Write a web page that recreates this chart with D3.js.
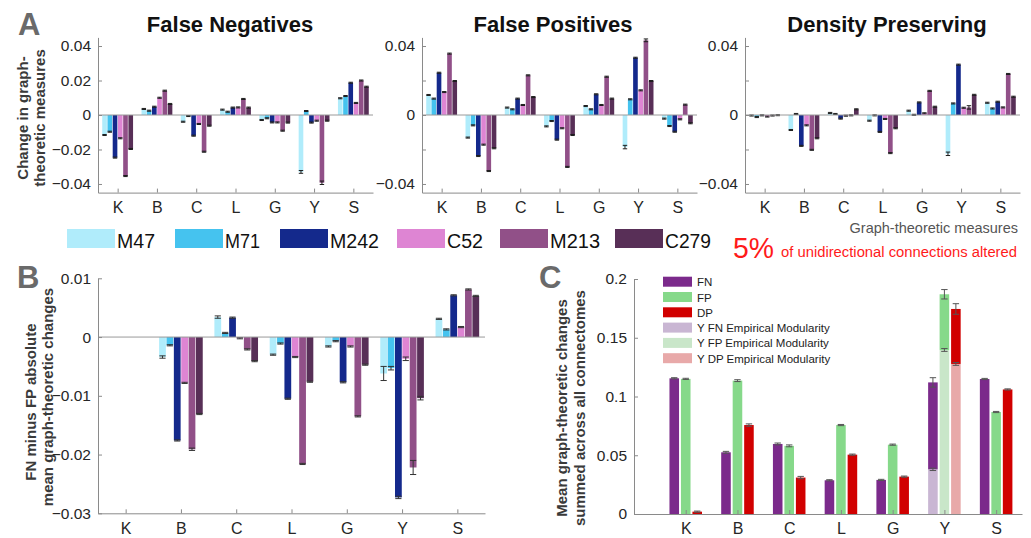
<!DOCTYPE html>
<html><head><meta charset="utf-8">
<script src="https://cdn.jsdelivr.net/npm/d3@7"></script>
<style>body{margin:0;background:#fff;} svg{display:block;font-family:Arial,"Liberation Sans",sans-serif;}</style>
</head><body><svg id="c" width="1031" height="538"></svg>
<script>
// ---------- DATA ----------
const measures = ["K","B","C","L","G","Y","S"];
const connectomes = ["M47","M71","M242","C52","M213","C279"];
// rows = measures, columns = connectomes
const fnChange = [
 [-0.0116,-0.0097,-0.0247,-0.0135,-0.0354,-0.0197],
 [ 0.0035, 0.0025, 0.0048, 0.0100, 0.0141, 0.0064],
 [-0.0039,-0.0006,-0.0120,-0.0052,-0.0213,-0.0062],
 [ 0.0031, 0.0019, 0.0043, 0.0044, 0.0093, 0.0043],
 [-0.0029,-0.0019,-0.0043,-0.0043,-0.0091,-0.0044],
 [-0.0330, 0.0023,-0.0044,-0.0033,-0.0393,-0.0033],
 [ 0.0097, 0.0110, 0.0187, 0.0070, 0.0200, 0.0164]
];
const fnErr = [
 [0.0003,0.0003,0.0003,0.0003,0.0003,0.0003],
 [0.0003,0.0003,0.0003,0.0003,0.0003,0.0003],
 [0.0003,0.0003,0.0003,0.0003,0.0003,0.0003],
 [0.0003,0.0003,0.0003,0.0003,0.0003,0.0003],
 [0.0003,0.0003,0.0003,0.0003,0.0003,0.0003],
 [0.0008,0.0003,0.0003,0.0003,0.0010,0.0003],
 [0.0003,0.0003,0.0003,0.0003,0.0003,0.0003]
];
const fpChange = [
 [ 0.0116, 0.0095, 0.0245, 0.0133, 0.0356, 0.0197],
 [-0.0131,-0.0060,-0.0238,-0.0172,-0.0325,-0.0193],
 [ 0.0043, 0.0033, 0.0095, 0.0058, 0.0230, 0.0104],
 [-0.0066,-0.0035,-0.0143,-0.0077,-0.0301,-0.0116],
 [ 0.0052, 0.0033, 0.0120, 0.0058, 0.0222, 0.0095],
 [-0.0186, 0.0091, 0.0332, 0.0143, 0.0433, 0.0197],
 [-0.0021,-0.0064,-0.0097,-0.0025, 0.0060,-0.0048]
];
const fpErr = [
 [0.0003,0.0003,0.0003,0.0003,0.0003,0.0003],
 [0.0003,0.0003,0.0003,0.0003,0.0003,0.0003],
 [0.0003,0.0003,0.0003,0.0003,0.0003,0.0003],
 [0.0003,0.0003,0.0003,0.0003,0.0003,0.0003],
 [0.0003,0.0003,0.0003,0.0003,0.0003,0.0003],
 [0.0010,0.0003,0.0003,0.0003,0.0008,0.0003],
 [0.0003,0.0003,0.0003,0.0003,0.0003,0.0003]
];
const dpChange = [
 [-0.0003,-0.0012,-0.0002,-0.0009,-0.0003,-0.0001],
 [-0.0087, 0.0006,-0.0179,-0.0060,-0.0202,-0.0135],
 [ 0.0012, 0.0006,-0.0021,-0.0004,-0.0002, 0.0033],
 [-0.0033,-0.0002,-0.0098,-0.0023,-0.0221,-0.0077],
 [ 0.0025, 0.0001, 0.0073, 0.0010, 0.0140, 0.0048],
 [-0.0225, 0.0067, 0.0292, 0.0042, 0.0044, 0.0117],
 [ 0.0071, 0.0038, 0.0077, 0.0044, 0.0238, 0.0106]
];
const dpErr = [
 [0.0003,0.0003,0.0003,0.0003,0.0003,0.0003],
 [0.0003,0.0003,0.0003,0.0003,0.0003,0.0003],
 [0.0003,0.0003,0.0003,0.0003,0.0003,0.0003],
 [0.0003,0.0003,0.0003,0.0003,0.0003,0.0003],
 [0.0003,0.0003,0.0003,0.0003,0.0003,0.0003],
 [0.0010,0.0003,0.0003,0.0003,0.0010,0.0003],
 [0.0003,0.0003,0.0003,0.0003,0.0003,0.0003]
];
const fnMinusFp = [
 [ 0, 0, 0, 0, 0, 0],
 [-0.0034,-0.0014,-0.0176,-0.0078,-0.0191,-0.0131],
 [ 0.0034, 0.0007, 0.0033,-0.0002,-0.0021,-0.0041],
 [-0.0030,-0.0011,-0.0105,-0.0034,-0.0216,-0.0076],
 [-0.0016,-0.0007,-0.0077,-0.0016,-0.0135,-0.0047],
 [-0.0062,-0.0053,-0.0273,-0.0037,-0.0222,-0.0104],
 [ 0.0031, 0.0013, 0.0071, 0.0017, 0.0081, 0.0070]
];
const fnMinusFpErr = [
 [0,0,0,0,0,0],
 [0.0002,0.0001,0.0001,0.0001,0.0002,0.0001],
 [0.0002,0.0001,0.0001,0.0001,0.0001,0.0001],
 [0.0001,0.0001,0.0001,0.0001,0.0001,0.0001],
 [0.0001,0.0001,0.0001,0.0001,0.0001,0.0001],
 [0.0012,0.0003,0.0002,0.0003,0.0012,0.0003],
 [0.0001,0.0001,0.0001,0.0001,0.0001,0.0001]
];
const cSeries = ["FN","FP","DP"];
const fnTotal = [0.1155, 0.0525, 0.0596, 0.0287, 0.0290, 0.1120, 0.1149];
const fpTotal = [0.1150, 0.1135, 0.0580, 0.0757, 0.0590, 0.1870, 0.0868];
const dpTotal = [0.0020, 0.0757, 0.0310, 0.0505, 0.0318, 0.1745, 0.1060];
const fnTotalErr = [0.0005, 0.0008, 0.0008, 0.0005, 0.0005, 0.0040, 0.0005];
const fpTotalErr = [0.0005, 0.0008, 0.0008, 0.0005, 0.0005, 0.0040, 0.0005];
const dpTotalErr = [0.0005, 0.0010, 0.0010, 0.0005, 0.0005, 0.0045, 0.0005];
const yEmpirical = [0.0380, 0.1396, 0.1277];      // FN, FP, DP modularity (Y) empirical part
const yEmpiricalErr = [0.0010, 0.0012, 0.0012];
const cLegend = ["FN","FP","DP","Y FN Empirical Modularity","Y FP Empirical Modularity","Y DP Empirical Modularity"];

// ---------- STYLE ----------
const connColors = ["#b0ecfb","#45c3ef","#14298c","#de85d3","#915088","#582f57"];
const cColors = ["#7b2a8b","#86d98a","#d10000"];
const cLight = ["#c9b6d3","#c9e6c9","#e8a9a9"];
const axisGrey = "#8a8a8a";
const fmt = d => d === 0 ? "0" : d3.format("")(+d.toFixed(3));

const svg = d3.select("#c");
svg.append("rect").attr("width",1031).attr("height",538).attr("fill","#fff");

function styleAxis(g, fs){
  g.attr("font-family", null).attr("font-size", null);
  g.select(".domain").attr("stroke", axisGrey);
  g.selectAll(".tick line").attr("stroke", axisGrey);
  g.selectAll(".tick text").attr("fill","#262626").style("font-size", fs + "px");
}

// ---------- PANEL A ----------
const yA = d3.scaleLinear().domain([-0.045, 0.045]).range([192.6, 37.4]);
const aTicks = [-0.04,-0.02,0,0.02,0.04];
const panelsA = [
  {title:"False Negatives", vals: fnChange, errs: fnErr, x0:98, x1:373, all:true, tx:230},
  {title:"False Positives", vals: fpChange, errs: fpErr, x0:422, x1:697, all:false, tx:553},
  {title:"Density Preserving", vals: dpChange, errs: dpErr, x0:745, x1:1020, all:false, tx:887}
];

function groupedBars(g, x, y, vals, errs, errColor){
  const step = x(2) - x(1);
  const slot = step * 0.8 / connectomes.length;
  vals.forEach((row, i) => {
    row.forEach((v, j) => {
      const cx = x(i + 1) + (j - 2.5) * slot;
      g.append("rect")
        .attr("x", cx - slot/2 + 0.3).attr("width", slot - 0.6)
        .attr("y", y(Math.max(v, 0))).attr("height", Math.abs(y(v) - y(0)))
        .attr("fill", connColors[j]);
    });
  });
  vals.forEach((row, i) => {
    row.forEach((v, j) => {
      const e = errs[i][j];
      if (e <= 0) return;
      const cx = x(i + 1) + (j - 2.5) * slot;
      const hw = slot * 0.42;
      const eb = g.append("g").attr("stroke", errColor).attr("stroke-width", 1);
      eb.append("line").attr("x1",cx).attr("x2",cx).attr("y1",y(v-e)).attr("y2",y(v+e));
      eb.append("line").attr("x1",cx-hw).attr("x2",cx+hw).attr("y1",y(v-e)).attr("y2",y(v-e));
      eb.append("line").attr("x1",cx-hw).attr("x2",cx+hw).attr("y1",y(v+e)).attr("y2",y(v+e));
    });
  });
}

panelsA.forEach(p => {
  const x = d3.scaleLinear().domain([0.5, 7.5]).range([p.x0, p.x1]);
  const g = svg.append("g");
  groupedBars(g, x, yA, p.vals, p.errs, "#1e1e1e");
  g.append("line").attr("x1", p.x0).attr("x2", p.x1).attr("y1", yA(0)).attr("y2", yA(0))
    .attr("stroke", "#9a9a9a").attr("stroke-width", 1);
  const ya = svg.append("g").attr("transform", `translate(${p.x0},0)`)
    .call(d3.axisLeft(yA).tickValues(aTicks).tickSize(-4).tickSizeOuter(0).tickPadding(7)
      .tickFormat(d => (p.all || Math.abs(d) > 0.03 || d === 0) ? fmt(d) : ""));
  styleAxis(ya, 15.5);
  const xa = svg.append("g").attr("transform", `translate(0,${yA.range()[0]})`)
    .call(d3.axisBottom(x).tickValues(d3.range(1, 8)).tickSize(-4).tickSizeOuter(0).tickPadding(9)
      .tickFormat(i => measures[i - 1]));
  styleAxis(xa, 16);
  svg.append("text").attr("x", p.tx).attr("y", 32).attr("text-anchor","middle")
    .attr("font-weight","bold").attr("font-size", 22).attr("fill","#111").text(p.title);
});

svg.append("text").attr("x", 18).attr("y", 35).attr("font-size", 31).attr("font-weight","bold")
  .attr("fill","#6a6a6a").text("A");
svg.append("text").attr("transform","translate(28,118) rotate(-90)").attr("text-anchor","middle")
  .attr("font-weight","bold").attr("font-size",15).attr("fill","#3a3a3a").text("Change in graph-");
svg.append("text").attr("transform","translate(45,118) rotate(-90)").attr("text-anchor","middle")
  .attr("font-weight","bold").attr("font-size",15).attr("fill","#3a3a3a").text("theoretic measures");
svg.append("text").attr("x", 1018).attr("y", 233).attr("text-anchor","end")
  .attr("font-size", 14.5).attr("fill","#555").text("Graph-theoretic measures");

// legend row
const legX = [67, 175, 280, 397, 500, 615];
const legTextW = [38, 35, 49, 36, 50, 46];
connectomes.forEach((c, j) => {
  svg.append("rect").attr("x", legX[j]).attr("y", 229).attr("width", 48).attr("height", 19)
    .attr("fill", connColors[j]);
  svg.append("text").attr("x", legX[j] + 50).attr("y", 248).attr("font-size", 20)
    .attr("textLength", legTextW[j]).attr("lengthAdjust","spacingAndGlyphs")
    .attr("fill","#111").text(c);
});
svg.append("text").attr("x", 733).attr("y", 258).attr("font-size", 29).attr("fill","#ff1a1a")
  .attr("textLength", 41).attr("lengthAdjust","spacingAndGlyphs").text("5%");
svg.append("text").attr("x", 781).attr("y", 257).attr("font-size", 14).attr("fill","#ff1a1a")
  .attr("textLength", 236).attr("lengthAdjust","spacingAndGlyphs").text("of unidirectional connections altered");

// ---------- PANEL B ----------
{
  const x = d3.scaleLinear().domain([0.5, 7.5]).range([98, 485]);
  const y = d3.scaleLinear().domain([-0.03, 0.01]).range([513.3, 278.3]);
  const g = svg.append("g");
  groupedBars(g, x, y, fnMinusFp, fnMinusFpErr, "#333");
  g.append("line").attr("x1", 98).attr("x2", 485).attr("y1", y(0)).attr("y2", y(0))
    .attr("stroke", "#9a9a9a");
  const ya = svg.append("g").attr("transform","translate(98,0)")
    .call(d3.axisLeft(y).tickValues([-0.03,-0.02,-0.01,0,0.01]).tickSize(-4).tickSizeOuter(0).tickPadding(7).tickFormat(fmt));
  styleAxis(ya, 15.5);
  const xa = svg.append("g").attr("transform",`translate(0,${y.range()[0]})`)
    .call(d3.axisBottom(x).tickValues(d3.range(1,8)).tickSize(-4).tickSizeOuter(0).tickPadding(9)
      .tickFormat(i => measures[i-1]));
  styleAxis(xa, 16);
  svg.append("text").attr("x", 17).attr("y", 288).attr("font-size", 31).attr("font-weight","bold")
    .attr("fill","#6a6a6a").text("B");
  svg.append("text").attr("transform","translate(36,402) rotate(-90)").attr("text-anchor","middle")
    .attr("font-weight","bold").attr("font-size",15).attr("fill","#3a3a3a").text("FN minus FP absolute");
  svg.append("text").attr("transform","translate(53,397) rotate(-90)").attr("text-anchor","middle")
    .attr("font-weight","bold").attr("font-size",15).attr("fill","#3a3a3a").text("mean graph-theoretic changes");
}

// ---------- PANEL C ----------
{
  const x = d3.scaleLinear().domain([0, 7.5]).range([634, 1022]);
  const y = d3.scaleLinear().domain([0, 0.2]).range([514, 279]);
  const step = x(1) - x(0);
  const off = 0.222, bw = 0.185;
  const totals = [fnTotal, fpTotal, dpTotal];
  const terrs = [fnTotalErr, fpTotalErr, dpTotalErr];
  const g = svg.append("g");
  const yIdx = measures.indexOf("Y");
  totals.forEach((arr, k) => {
    arr.forEach((v, i) => {
      const cx = x(i + 1) + (k - 1) * off * step;
      const left = cx - bw * step / 2;
      if (i === yIdx) {
        g.append("rect").attr("x", left).attr("width", bw*step).attr("y", y(yEmpirical[k]))
          .attr("height", y(0) - y(yEmpirical[k])).attr("fill", cLight[k]);
        g.append("rect").attr("x", left).attr("width", bw*step).attr("y", y(v))
          .attr("height", y(yEmpirical[k]) - y(v)).attr("fill", cColors[k]);
      } else {
        g.append("rect").attr("x", left).attr("width", bw*step).attr("y", y(v))
          .attr("height", y(0) - y(v)).attr("fill", cColors[k]);
      }
    });
  });
  function ebar(cx, v, e){
    const hw = 3.2;
    const eb = g.append("g").attr("stroke","#555").attr("stroke-width",1);
    eb.append("line").attr("x1",cx).attr("x2",cx).attr("y1",y(v-e)).attr("y2",y(v+e));
    eb.append("line").attr("x1",cx-hw).attr("x2",cx+hw).attr("y1",y(v-e)).attr("y2",y(v-e));
    eb.append("line").attr("x1",cx-hw).attr("x2",cx+hw).attr("y1",y(v+e)).attr("y2",y(v+e));
  }
  totals.forEach((arr, k) => {
    arr.forEach((v, i) => {
      const cx = x(i + 1) + (k - 1) * off * step;
      ebar(cx, v, terrs[k][i]);
      if (i === yIdx) ebar(cx, yEmpirical[k], yEmpiricalErr[k]);
    });
  });
  const ya = svg.append("g").attr("transform","translate(634,0)")
    .call(d3.axisLeft(y).tickValues([0,0.05,0.1,0.15,0.2]).tickSize(-4).tickSizeOuter(0).tickPadding(7).tickFormat(fmt));
  styleAxis(ya, 15.5);
  const xa = svg.append("g").attr("transform",`translate(0,${y.range()[0]})`)
    .call(d3.axisBottom(x).tickValues(d3.range(1,8)).tickSize(-4).tickSizeOuter(0).tickPadding(9)
      .tickFormat(i => measures[i-1]));
  styleAxis(xa, 16);
  // legend
  const legColors = cColors.concat(cLight);
  cLegend.forEach((t, r) => {
    const cy = 281.7 + r * 15.3;
    svg.append("rect").attr("x", 663).attr("y", cy - 5).attr("width", 29).attr("height", 10)
      .attr("fill", legColors[r]);
    svg.append("text").attr("x", 697).attr("y", cy + 4.5).attr("font-size", 11.5)
      .attr("fill","#222").text(t);
  });
  svg.append("text").attr("x", 539).attr("y", 288).attr("font-size", 31).attr("font-weight","bold")
    .attr("fill","#6a6a6a").text("C");
  svg.append("text").attr("transform","translate(567,408) rotate(-90)").attr("text-anchor","middle")
    .attr("font-weight","bold").attr("font-size",15).attr("fill","#3a3a3a").text("Mean graph-theoretic changes");
  svg.append("text").attr("transform","translate(585,408) rotate(-90)").attr("text-anchor","middle")
    .attr("font-weight","bold").attr("font-size",15).attr("fill","#3a3a3a").text("summed across all connectomes");
}
</script></body></html>
